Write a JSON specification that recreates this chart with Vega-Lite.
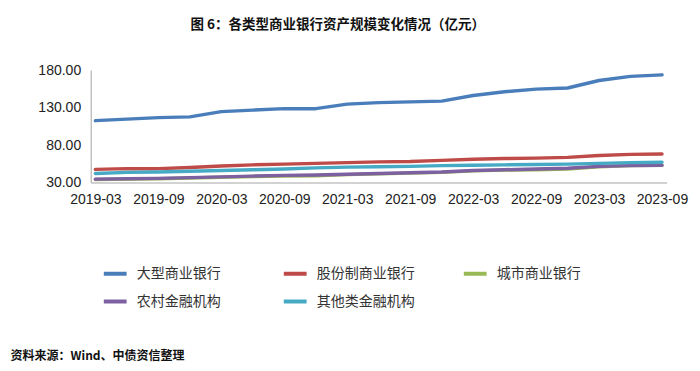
{
  "$schema": "https://vega.github.io/schema/vega-lite/v6.json",
  "autosize": "none",
  "width": 576,
  "height": 112.5,
  "padding": {"left": 90.7, "top": 70, "right": 33.3, "bottom": 188.5},
  "background": "white",
  "title": {
    "text": "图 6：各类型商业银行资产规模变化情况（亿元）",
    "font": "Noto Sans CJK SC",
    "fontSize": 13.5,
    "fontWeight": "bold",
    "color": "#111111",
    "anchor": "middle",
    "frame": "group",
    "dx": -41,
    "offset": 32
  },
  "data": {
    "values": [
      {"q": "2019-03", "大型商业银行": 112.5, "股份制商业银行": 47.5, "城市商业银行": 34.0, "农村金融机构": 34.5, "其他类金融机构": 42.0},
      {"q": "2019-06", "大型商业银行": 114.5, "股份制商业银行": 48.5, "城市商业银行": 34.5, "农村金融机构": 35.0, "其他类金融机构": 43.5},
      {"q": "2019-09", "大型商业银行": 116.5, "股份制商业银行": 48.5, "城市商业银行": 35.0, "农村金融机构": 35.5, "其他类金融机构": 44.0},
      {"q": "2019-12", "大型商业银行": 117.5, "股份制商业银行": 50.0, "城市商业银行": 36.0, "农村金融机构": 36.5, "其他类金融机构": 45.0},
      {"q": "2020-03", "大型商业银行": 124.5, "股份制商业银行": 52.0, "城市商业银行": 37.0, "农村金融机构": 37.5, "其他类金融机构": 46.0},
      {"q": "2020-06", "大型商业银行": 126.5, "股份制商业银行": 53.5, "城市商业银行": 38.0, "农村金融机构": 38.5, "其他类金融机构": 47.0},
      {"q": "2020-09", "大型商业银行": 128.5, "股份制商业银行": 54.5, "城市商业银行": 38.5, "农村金融机构": 39.5, "其他类金融机构": 48.0},
      {"q": "2020-12", "大型商业银行": 128.5, "股份制商业银行": 55.5, "城市商业银行": 39.0, "农村金融机构": 40.0, "其他类金融机构": 49.5},
      {"q": "2021-03", "大型商业银行": 134.5, "股份制商业银行": 56.5, "城市商业银行": 40.5, "农村金融机构": 41.0, "其他类金融机构": 50.5},
      {"q": "2021-06", "大型商业银行": 136.5, "股份制商业银行": 57.5, "城市商业银行": 41.5, "农村金融机构": 42.0, "其他类金融机构": 51.0},
      {"q": "2021-09", "大型商业银行": 137.5, "股份制商业银行": 58.0, "城市商业银行": 42.5, "农村金融机构": 43.0, "其他类金融机构": 51.5},
      {"q": "2021-12", "大型商业银行": 138.5, "股份制商业银行": 59.5, "城市商业银行": 43.5, "农村金融机构": 44.0, "其他类金融机构": 52.5},
      {"q": "2022-03", "大型商业银行": 146.0, "股份制商业银行": 61.0, "城市商业银行": 45.5, "农村金融机构": 46.0, "其他类金融机构": 53.0},
      {"q": "2022-06", "大型商业银行": 151.0, "股份制商业银行": 62.0, "城市商业银行": 46.5, "农村金融机构": 47.0, "其他类金融机构": 53.5},
      {"q": "2022-09", "大型商业银行": 154.5, "股份制商业银行": 62.5, "城市商业银行": 47.0, "农村金融机构": 48.0, "其他类金融机构": 54.0},
      {"q": "2022-12", "大型商业银行": 156.0, "股份制商业银行": 63.5, "城市商业银行": 48.0, "农村金融机构": 49.0, "其他类金融机构": 54.5},
      {"q": "2023-03", "大型商业银行": 166.0, "股份制商业银行": 66.0, "城市商业银行": 51.0, "农村金融机构": 51.5, "其他类金融机构": 55.5},
      {"q": "2023-06", "大型商业银行": 171.5, "股份制商业银行": 67.5, "城市商业银行": 52.5, "农村金融机构": 52.5, "其他类金融机构": 56.5},
      {"q": "2023-09", "大型商业银行": 173.5, "股份制商业银行": 68.0, "城市商业银行": 53.0, "农村金融机构": 53.0, "其他类金融机构": 57.0}
    ]
  },
  "transform": [
    {"fold": ["大型商业银行", "股份制商业银行", "城市商业银行", "农村金融机构", "其他类金融机构"], "as": ["series", "value"]}
  ],
  "mark": {"type": "line", "strokeWidth": 3.5, "strokeJoin": "round", "strokeCap": "round"},
  "encoding": {
    "x": {
      "field": "q",
      "type": "ordinal",
      "sort": null,
      "scale": {"type": "point", "padding": 0.15},
      "axis": {
        "values": ["2019-03", "2019-09", "2020-03", "2020-09", "2021-03", "2021-09", "2022-03", "2022-09", "2023-03", "2023-09"],
        "labelAngle": 0,
        "ticks": false,
        "grid": false,
        "domainColor": "#a6a6a6",
        "domainWidth": 1,
        "labelFont": "Liberation Sans",
        "labelFontSize": 14,
        "labelColor": "#222222",
        "labelPadding": 10,
        "labelOverlap": false,
        "title": "资料来源：Wind、中债资信整理",
        "titleFont": "Noto Sans CJK SC",
        "titleFontSize": 12,
        "titleFontWeight": "bold",
        "titleColor": "#111111",
        "titleAnchor": "start",
        "titleAlign": "left",
        "titleBaseline": "middle",
        "titleX": -80.7,
        "titleY": 172.5
      }
    },
    "y": {
      "field": "value",
      "type": "quantitative",
      "scale": {"domain": [30, 180], "nice": false, "zero": false},
      "axis": {
        "values": [30, 80, 130, 180],
        "format": ".2f",
        "ticks": false,
        "grid": false,
        "domainColor": "#a6a6a6",
        "domainWidth": 1,
        "labelFont": "Liberation Sans",
        "labelFontSize": 14,
        "labelColor": "#222222",
        "labelPadding": 10,
        "title": null
      }
    },
    "color": {
      "field": "series",
      "type": "nominal",
      "sort": ["大型商业银行", "股份制商业银行", "城市商业银行", "农村金融机构", "其他类金融机构"],
      "scale": {
        "domain": ["大型商业银行", "股份制商业银行", "城市商业银行", "农村金融机构", "其他类金融机构"],
        "range": ["#4a7ebb", "#be4b48", "#98b954", "#7d60a0", "#46aac5"]
      },
      "legend": {
        "title": null,
        "orient": "none",
        "legendX": 11,
        "legendY": 190,
        "direction": "horizontal",
        "columns": 3,
        "gridAlign": "all",
        "columnPadding": 41,
        "rowPadding": 6,
        "symbolType": "stroke",
        "symbolSize": 520,
        "symbolStrokeWidth": 4,
        "labelFont": "Noto Sans CJK SC",
        "labelFontSize": 14,
        "labelColor": "#333333",
        "labelOffset": 8
      }
    }
  },
  "config": {"view": {"stroke": null}}
}
